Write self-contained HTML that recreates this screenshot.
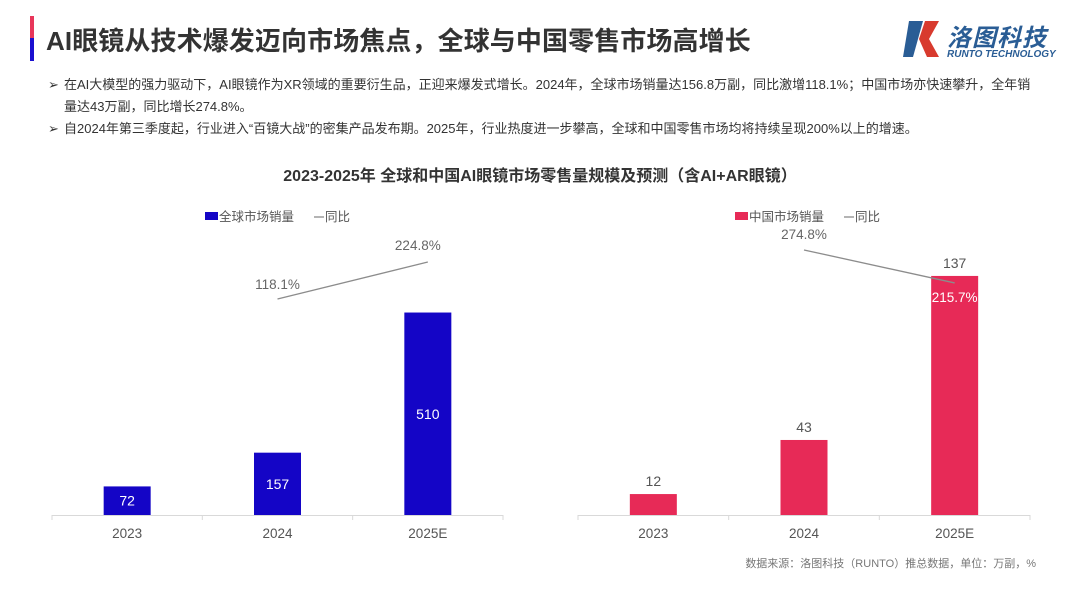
<!DOCTYPE html>
<html><head><meta charset="utf-8">
<style>
body{margin:0;width:1080px;height:605px;background:#fff;font-family:"Liberation Sans","Noto Sans CJK SC",sans-serif;position:relative;overflow:hidden;color:#333}
.abs{position:absolute}
</style></head><body>
<div class="abs" style="left:30px;top:16px;width:4px;height:22px;background:#e8365a"></div>
<div class="abs" style="left:30px;top:38px;width:4px;height:23px;background:#1a10d0"></div>
<div class="abs" style="left:46px;top:21px;font-size:26px;font-weight:bold;color:#333;letter-spacing:0.1px">AI眼镜从技术爆发迈向市场焦点，全球与中国零售市场高增长</div>
<svg class="abs" style="left:903px;top:19px" width="44" height="40" viewBox="0 0 44 40">
<polygon points="6,2 20,2 10,38 0,38" fill="#2a5d95"/>
<polygon points="22,2 36,2 26,20 36,38 24,38 16,20" fill="#d83a2e"/>
</svg>
<div class="abs" style="left:947px;top:18px;font-size:24px;font-weight:bold;color:#2a5d95;font-style:italic;letter-spacing:1px">洛图科技</div>
<div class="abs" style="left:947px;top:49px;font-size:10px;font-weight:bold;color:#2a5d95;font-style:italic">RUNTO TECHNOLOGY</div>
<div class="abs" style="left:48px;top:74px;width:1000px;font-size:13px;line-height:22px;color:#333">
<span style="display:inline-block;width:16px">➢</span>在AI大模型的强力驱动下，AI眼镜作为XR领域的重要衍生品，正迎来爆发式增长。2024年，全球市场销量达156.8万副，同比激增118.1%；中国市场亦快速攀升，全年销<br><span style="display:inline-block;width:16px"></span>量达43万副，同比增长274.8%。</div>
<div class="abs" style="left:48px;top:118px;width:1000px;font-size:13px;line-height:22px;color:#333">
<span style="display:inline-block;width:16px">➢</span>自2024年第三季度起，行业进入“百镜大战”的密集产品发布期。2025年，行业热度进一步攀高，全球和中国零售市场均将持续呈现200%以上的增速。</div>
<div class="abs" style="left:0;width:1080px;top:162px;text-align:center;font-size:16px;font-weight:bold;color:#333">2023-2025年 全球和中国AI眼镜市场零售量规模及预测（含AI+AR眼镜）</div>
<svg class="abs" id="chart" style="left:0;top:0" width="1080" height="605"></svg>
<div class="abs" style="right:44px;top:555px;font-size:11px;color:#777">数据来源：洛图科技（RUNTO）推总数据，单位：万副，%</div>
<script>
const categories=["2023","2024","2025E"];
const globalSales=[72,157,510];
const globalYoY=[null,118.1,224.8];
const chinaSales=[12,43,137];
const chinaYoY=[null,274.8,215.7];
const globalLabels=["72","157","510"];
const chinaLabels=["12","43","137"];
const svg=document.getElementById('chart');
const NS='http://www.w3.org/2000/svg';
function mk(tag,attrs,txt){const e=document.createElementNS(NS,tag);for(const k in attrs)e.setAttribute(k,attrs[k]);if(txt!==undefined)e.textContent=txt;svg.appendChild(e);return e;}
function drawPanel(p){
  const base=515;
  const xs=i=>p.x0+(p.x1-p.x0)*(i+0.5)/categories.length;
  const yb=v=>base-v*p.scale;
  const yl=v=>p.lineBase-v*p.lineScale;
  let a=mk('line',{x1:p.x0,x2:p.x1,y1:base+0.5,y2:base+0.5,stroke:'#d9d9d9','stroke-width':1});
  
  
  for(let i=0;i<=categories.length;i++){
    const tx=p.x0+(p.x1-p.x0)*i/categories.length;
    const t=mk('line',{x1:tx,x2:tx,y1:base,y2:base+5,stroke:'#d9d9d9'});
    
    
  }
  categories.forEach((c,i)=>{
    const x=xs(i),v=p.sales[i];
    const r=mk('rect',{x:x-23.5,y:yb(v),width:47,height:v*p.scale,fill:p.color});
    
    
    const inside=p.inside;
    const lt=mk('text',{x:x,y:inside?(yb(v)+base)/2+5:yb(v)-8,'text-anchor':'middle','font-size':14,fill:inside?'#fff':'#555'},p.labels[i]);
    
    
    const xt=mk('text',{x:x,y:base+23,'text-anchor':'middle','font-size':13.5,fill:'#555'},c);
    
    
  });
  const pts=[];p.yoy.forEach((v,i)=>{if(v!==null)pts.push([xs(i),yl(v),v,i]);});
  const pl=mk('polyline',{points:pts.map(q=>q[0]+','+q[1]).join(' '),fill:'none',stroke:'#8c8c8c','stroke-width':1.3});
  
  
  pts.forEach((q,k)=>{
    const off=p.lblOff[k];
    const t=mk('text',{x:q[0]+off[0],y:q[1]+off[1],'text-anchor':'middle','font-size':13.5,fill:off[2]||'#666'},q[2].toFixed(1)+'%');
    
    
  });
  const lr=mk('rect',{x:p.legX,y:212,width:13,height:8,fill:p.color});
  
  
  const lt=mk('text',{x:p.legX+14,y:221,'font-size':12.5,fill:'#555'},p.legName);
  
  
  const ll=mk('line',{x1:p.legX+109,x2:p.legX+119,y1:217,y2:217,stroke:'#8c8c8c','stroke-width':1.3});
  
  
  const lt2=mk('text',{x:p.legX+120,y:221,'font-size':12.5,fill:'#555'},'同比');
  
  
}
drawPanel({id:'global',x0:52,x1:503,scale:0.397,lineBase:340,lineScale:0.347,sales:globalSales,yoy:globalYoY,labels:globalLabels,color:'#1405c6',inside:true,lblOff:[[0,-10],[-10,-12]],legX:205,legName:'全球市场销量'});
drawPanel({id:'china',x0:578,x1:1030,scale:1.745,lineBase:403.3,lineScale:0.558,sales:chinaSales,yoy:chinaYoY,labels:chinaLabels,color:'#e72a57',inside:false,lblOff:[[0,-11],[0,19,'#fff']],legX:735,legName:'中国市场销量'});
</script>
</body></html>
